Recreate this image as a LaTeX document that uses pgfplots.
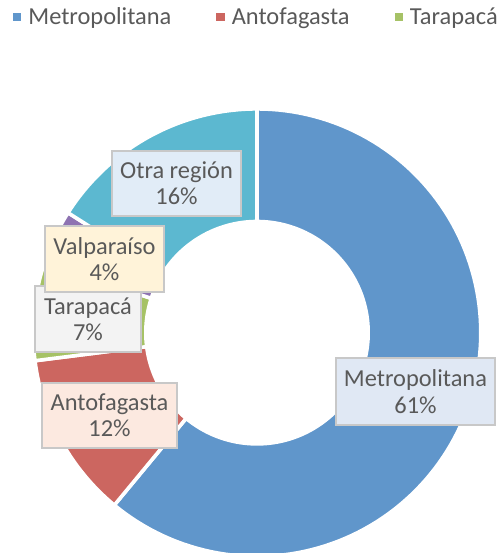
\documentclass[border=0pt]{standalone}
\usepackage{fontspec}
\setmainfont{Carlito}
\usepackage{pgfplots}
\pgfplotsset{compat=1.18}
\definecolor{c1}{HTML}{6096CB}
\definecolor{c2}{HTML}{CC6660}
\definecolor{c3}{HTML}{A6C266}
\definecolor{c4}{HTML}{8E73B2}
\definecolor{c5}{HTML}{5CB8D0}
\definecolor{txt}{HTML}{595959}
\definecolor{bord}{HTML}{C8C8C8}
\definecolor{f1}{HTML}{E0E8F4}
\definecolor{f2}{HTML}{FCE9E0}
\definecolor{f3}{HTML}{F3F3F3}
\definecolor{f4}{HTML}{FFF3D9}
\definecolor{f5}{HTML}{E1ECF7}
\begin{document}
\begin{tikzpicture}
\useasboundingbox (0,0) rectangle (504bp,553bp);
% shares (percent): Metropolitana 61, Antofagasta 12, Tarapaca 7, Valparaiso 4, Otra region 16
\pgfmathsetmacro\aA{90}
\pgfmathsetmacro\aB{\aA-3.6*61}
\pgfmathsetmacro\aC{\aB-3.6*12}
\pgfmathsetmacro\aD{\aC-3.6*7}
\pgfmathsetmacro\aE{\aD-3.6*4}
\pgfmathsetmacro\aF{\aE-3.6*16}
\def\cx{257}\def\cy{220.3}\def\Ro{223.8}\def\Ri{111.2}
\begin{axis}[
  at={(0,0)}, anchor=south west,
  scale only axis, width=504bp, height=553bp,
  xmin=0, xmax=504, ymin=0, ymax=553,
  hide axis, clip=false,
  legend columns=3,
  legend style={at={(axis cs:13,536)}, anchor=west, draw=none, fill=none,
    font=\fontsize{24.5}{29}\selectfont, text=txt,
    inner sep=0pt, outer sep=0pt,
    nodes={inner sep=0pt, outer sep=0pt},
    /tikz/every odd column/.append style={column sep=7.5bp},
    /tikz/every even column/.append style={column sep=45bp}},
]
\addlegendimage{legend image code/.code={\fill[c1] (0bp,-3.7bp) rectangle (7.5bp,3.7bp);}}
\addlegendentry{Metropolitana}
\addlegendimage{legend image code/.code={\fill[c2] (0bp,-3.7bp) rectangle (7.5bp,3.7bp);}}
\addlegendentry{Antofagasta}
\addlegendimage{legend image code/.code={\fill[c3] (0bp,-3.7bp) rectangle (7.5bp,3.7bp);}}
\addlegendentry{Tarapacá}
\newcommand\slice[3]{%
  \addplot[forget plot, fill=#3, draw=white, line width=3.6bp, line join=miter, domain=#1:#2, samples=120]
    ({\cx+\Ro*cos(x)},{\cy+\Ro*sin(x)})
    -- plot[domain=#2:#1, samples=120] ({\cx+\Ri*cos(\x)},{\cy+\Ri*sin(\x)}) -- cycle;
}
\slice{\aB}{\aA}{c1}
\slice{\aC}{\aB}{c2}
\slice{\aD}{\aC}{c3}
\slice{\aE}{\aD}{c4}
\slice{\aF}{\aE}{c5}
\tikzset{lab/.style={draw=bord, line width=1.6bp, text=txt, align=center,
  font=\fontsize{24.5}{26.5}\selectfont, inner sep=0pt}}
\node[lab, fill=f1, minimum width=159bp, minimum height=67bp] at (axis cs:415.5,161.5) {Metropolitana\\61\%};
\node[lab, fill=f2, minimum width=135bp, minimum height=65bp] at (axis cs:109.5,137.5) {Antofagasta\\12\%};
\node[lab, fill=f3, minimum width=106bp, minimum height=66bp] at (axis cs:88,234) {Tarapacá\\7\%};
\node[lab, fill=f4, minimum width=119bp, minimum height=66bp] at (axis cs:104.5,294) {Valparaíso\\4\%};
\node[lab, fill=f5, minimum width=129bp, minimum height=65bp] at (axis cs:176.5,369.5) {Otra región\\16\%};
\end{axis}
\end{tikzpicture}
\end{document}
